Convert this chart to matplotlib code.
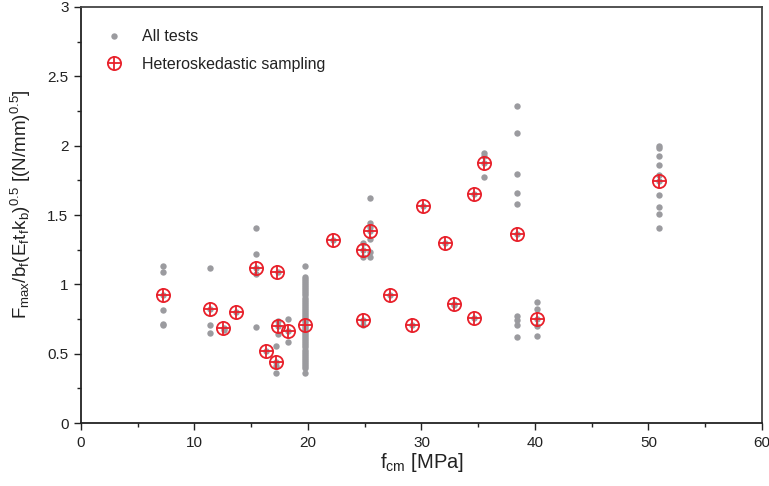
import matplotlib
matplotlib.use("Agg")
import matplotlib.pyplot as plt
from matplotlib.ticker import MultipleLocator, FuncFormatter
from matplotlib.legend_handler import HandlerTuple

plt.rcParams['font.family'] = ['Liberation Sans', 'DejaVu Sans']
plt.rcParams['mathtext.fontset'] = 'custom'
plt.rcParams['mathtext.rm'] = 'Liberation Sans'
plt.rcParams['mathtext.it'] = 'Liberation Sans'

# All tests: concrete strength groups and normalised bond strength values
group_fcm = [7.25, 11.4, 12.6, 13.7, 15.4, 16.3, 17.2, 17.4, 18.2, 19.75,
             22.2, 24.85, 25.45, 27.2, 29.15, 30.15, 32.05, 32.9, 34.65,
             35.5, 38.45, 40.15, 50.9]
group_ratio = [
    [1.134, 1.087, 0.923, 0.815, 0.714, 0.705],
    [1.115, 0.824, 0.71, 0.65],
    [0.687, 0.67],
    [0.798],
    [1.405, 1.218, 1.12, 1.072, 0.694],
    [0.521],
    [0.557, 0.442, 0.413, 0.358],
    [1.09, 0.737, 0.70, 0.64],
    [0.748, 0.666, 0.586],
    [1.132, 1.055, 1.04, 1.025, 1.01, 0.995, 0.98, 0.965, 0.95, 0.935,
     0.92, 0.905, 0.89, 0.875, 0.86, 0.845, 0.83, 0.815, 0.80, 0.785,
     0.77, 0.755, 0.74, 0.725, 0.71, 0.695, 0.68, 0.665, 0.65, 0.635,
     0.62, 0.605, 0.59, 0.575, 0.56, 0.545, 0.53, 0.515, 0.50, 0.485,
     0.47, 0.455, 0.44, 0.425, 0.41, 0.395, 0.358],
    [1.32],
    [1.30, 1.25, 1.20, 0.74, 0.707],
    [1.62, 1.44, 1.415, 1.384, 1.33, 1.235, 1.195],
    [0.923],
    [0.706],
    [1.565],
    [1.30],
    [0.861, 0.85],
    [1.65, 0.755],
    [1.944, 1.925, 1.872, 1.776],
    [2.285, 2.09, 1.795, 1.658, 1.579, 1.363, 0.771, 0.743, 0.707, 0.62],
    [0.872, 0.82, 0.752, 0.70, 0.63],
    [2.0, 1.98, 1.925, 1.86, 1.79, 1.745, 1.644, 1.555, 1.51, 1.408],
]

# Heteroskedastic sampling subset
sample_fcm = [7.22, 11.37, 12.55, 13.63, 15.39, 17.3, 16.28, 17.2, 17.4,
              18.25, 19.74, 22.2, 24.86, 25.46, 24.81, 27.22, 29.13, 30.16,
              32.07, 32.86, 34.65, 35.5, 34.65, 38.44, 40.14, 50.9]
sample_ratio = [0.923, 0.824, 0.687, 0.798, 1.12, 1.09, 0.521, 0.442, 0.70,
                0.666, 0.71, 1.32, 1.25, 1.384, 0.74, 0.923, 0.706, 1.565,
                1.30, 0.861, 1.65, 1.872, 0.755, 1.363, 0.752, 1.745]

test_fcm = [x for x, ys in zip(group_fcm, group_ratio) for _ in ys]
test_ratio = [y for ys in group_ratio for y in ys]

GRAY = '#9b9b9f'
RED = '#e8212b'

fig = plt.figure(figsize=(7.69, 4.86), dpi=100)
ax = fig.add_axes([0.1053, 0.1296, 0.8856, 0.8560])

h_all, = ax.plot(test_fcm, test_ratio, 'o', ls='none', color=GRAY, ms=4.6,
                 mec='none', zorder=2)
h_circ, = ax.plot(sample_fcm, sample_ratio, 'o', ls='none', ms=9.5,
                  mfc='none', mec=RED, mew=1.3, zorder=3)
h_plus, = ax.plot(sample_fcm, sample_ratio, '+', ls='none', ms=9.5,
                  mec=RED, mew=1.3, zorder=3)

ax.set_xlim(0, 60)
ax.set_ylim(0, 3)
ax.xaxis.set_major_locator(MultipleLocator(10))
ax.xaxis.set_minor_locator(MultipleLocator(5))
ax.yaxis.set_major_locator(MultipleLocator(0.5))
ax.yaxis.set_minor_locator(MultipleLocator(0.25))
fmt = FuncFormatter(lambda v, p: f'{v:g}')
ax.xaxis.set_major_formatter(fmt)
ax.yaxis.set_major_formatter(fmt)

ax.tick_params(which='both', direction='out', color='#222222', width=1.0,
               labelsize=11, labelcolor='#222222', top=False, right=False)
ax.tick_params(which='major', length=5, pad=4)
ax.tick_params(which='minor', length=3)

for side in ['left', 'bottom']:
    ax.spines[side].set_color('#222222')
    ax.spines[side].set_linewidth(1.3)
for side in ['top', 'right']:
    ax.spines[side].set_color('#444444')
    ax.spines[side].set_linewidth(1.3)

ax.set_xlabel(r'$\mathregular{f_{cm}}$ [MPa]', fontsize=14.5, color='#222222',
              labelpad=1)
ax.set_ylabel(r'$\mathregular{F_{max}/b_f(E_ft_fk_b)^{0.5}\ [(N/mm)^{0.5}]}$',
              fontsize=13.5, color='#222222')
ax.yaxis.set_label_coords(-0.07, 0.525)

leg = ax.legend([h_all, (h_circ, h_plus)],
                ['All tests', 'Heteroskedastic sampling'],
                handler_map={tuple: HandlerTuple(ndivide=1)},
                loc='upper left', frameon=False, fontsize=11.5,
                labelspacing=0.8, handlelength=1.6, handletextpad=0.95,
                borderaxespad=0.6, bbox_to_anchor=(0.006, 0.985),
                labelcolor='#222222')

fig.savefig('out.png', dpi=100)
